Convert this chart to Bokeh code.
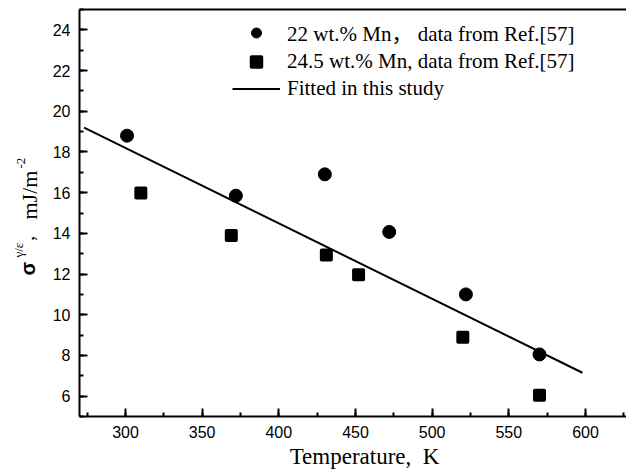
import math
from bokeh.plotting import figure
from bokeh.models import (Range1d, Label, Legend, LegendItem, LinearAxis,
                          SingleIntervalTicker, FixedTicker)
from bokeh.embed import file_html
from bokeh.resources import INLINE

# ---- data ----
temp_22 = [301, 372, 430, 472, 522, 570]
sfe_22 = [18.8, 15.85, 16.9, 14.07, 11.0, 8.05]
temp_245 = [310, 369, 431, 452, 520, 570]
sfe_245 = [15.98, 13.9, 12.93, 11.97, 8.9, 6.05]
fit_temp = [273, 598]
fit_sfe = [19.2, 7.15]

x_min, y_min, y_max = 270, 5, 25

label_22 = "22 wt.% Mn\uff0c data from Ref.[57]"
label_245 = "24.5 wt.% Mn, data from Ref.[57]"
label_fit = "Fitted in this study"

SERIF = "'Liberation Serif', 'Noto Sans CJK SC'"
SANS = "Liberation Sans"

W, H = 626, 472
FL, FT, FB = 79, 9, 416          # pixel positions of the axes box (left, top, bottom)
XS = 1.5333                      # px per K
YS = (FB - FT) / (y_max - y_min) # px per mJ/m2

x_start = x_min - FL / XS
x_end = x_start + W / XS
y_start = y_min - (H - FB) / YS
y_end = y_max + FT / YS

p = figure(width=W, height=H, min_border=0,
           x_range=Range1d(x_start, x_end), y_range=Range1d(y_start, y_end),
           x_axis_location=None, y_axis_location=None,
           output_backend="svg", toolbar_location=None)
p.title.visible = False
p.outline_line_color = None
p.grid.visible = False
p.background_fill_color = "white"
p.border_fill_color = "white"


def style_axis(ax):
    ax.axis_line_width = 2
    ax.axis_line_color = "black"
    ax.major_tick_line_width = 2
    ax.minor_tick_line_width = 2
    ax.major_tick_line_color = "black"
    ax.minor_tick_line_color = "black"
    ax.major_tick_in = 8
    ax.major_tick_out = 0
    ax.minor_tick_in = 4
    ax.minor_tick_out = 0
    ax.major_label_text_font = SANS
    ax.major_label_text_font_size = "16px"
    ax.major_label_text_color = "black"
    ax.major_label_standoff = 9


xax = LinearAxis(fixed_location=y_min, bounds=(x_min, x_end),
                 ticker=SingleIntervalTicker(interval=50, num_minor_ticks=2))
yax = LinearAxis(fixed_location=x_min, bounds=(y_min, y_max),
                 ticker=SingleIntervalTicker(interval=2, num_minor_ticks=2))
style_axis(xax)
style_axis(yax)
top = LinearAxis(fixed_location=y_max, bounds=(x_min, x_end),
                 ticker=FixedTicker(ticks=[]), axis_line_width=2,
                 major_tick_line_color=None, minor_tick_line_color=None,
                 major_label_text_alpha=0)
p.add_layout(xax, "below")
p.add_layout(yax, "left")
p.add_layout(top, "above")

r_fit = p.line(fit_temp, fit_sfe, line_color="black", line_width=2)
r_22 = p.scatter(temp_22, sfe_22, marker="circle", size=13, color="black")
r_245 = p.scatter(temp_245, sfe_245, marker="square", size=9.5, color="black",
                  line_width=3.5, line_join="round")

legend = Legend(items=[LegendItem(label=label_22, renderers=[r_22]),
                       LegendItem(label=label_245, renderers=[r_245]),
                       LegendItem(label=label_fit, renderers=[r_fit])],
                location=(232, H - 101), padding=0, margin=0, spacing=2,
                glyph_width=48, glyph_height=25, label_height=25,
                label_standoff=7, border_line_color=None,
                background_fill_alpha=0,
                label_text_font=SERIF, label_text_font_size="21px",
                label_text_color="black")
p.add_layout(legend)


def lab(text, px, py, font, size, angle=0.0, align="left", style="normal"):
    # px, py: canvas pixel position (from top-left) of the text anchor
    p.add_layout(Label(x=px, y=H - py, x_units="screen", y_units="screen",
                       text=text, angle=angle, text_font=font,
                       text_font_size=size, text_font_style=style,
                       text_align=align, text_baseline="alphabetic",
                       text_color="black"))


# x-axis title
lab("Temperature,\u2002K", 364, 456, SERIF, "23px", align="center")

# y-axis title pieces (rotated)
R = math.pi / 2
lab("\u03c3", 27, 275, SANS, "20px", R, style="bold")
lab("\u03b3/\u03b5", 18, 257, SERIF, "13px", R)
lab("\uff0c", 29, 242, SERIF, "16px", R)
lab("mJ/m", 29, 219, SERIF, "22px", R)
lab("-2", 20, 168, SERIF, "13px", R)

open("out.html", "w").write(file_html(p, INLINE))
